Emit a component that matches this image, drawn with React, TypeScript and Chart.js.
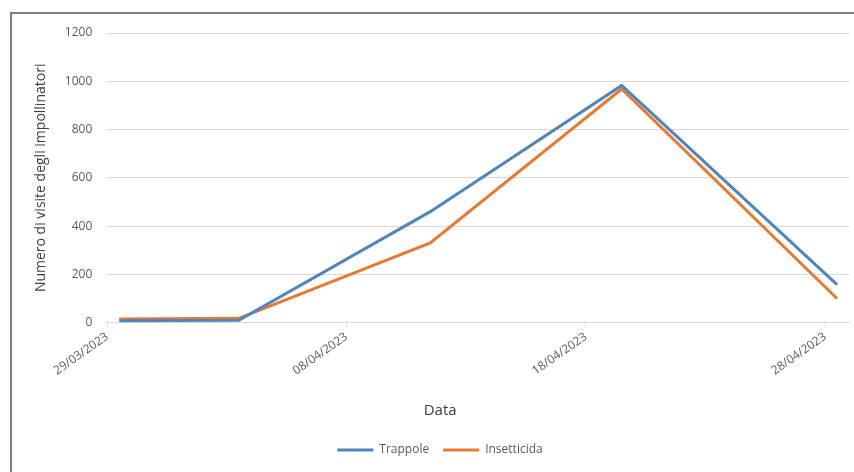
import React, { useEffect, useRef } from 'react';
import { Chart, registerables } from 'chart.js';

Chart.register(...registerables);

// ---- data ----
const dates = ['29/03/2023', '03/04/2023', '11/04/2023', '19/04/2023', '28/04/2023'];
const trappole = [8, 10, 460, 983, 158];
const insetticida = [15, 18, 330, 968, 100];
const seriesNames = ['Trappole', 'Insetticida'];
const axisStartDate = '29/03/2023';
const xTickDays = [0, 10, 20, 30];
const axisDays = 31;
const yMax = 1200;
const yStep = 200;
const xTitle = 'Data';
const yTitle = 'Numero di visite degli impollinatori';

const DAY = 86400000;
function parseDate(d: string): number {
  const [dd, mm, yy] = d.split('/').map(Number);
  return Date.UTC(yy, mm - 1, dd);
}
function dayOffset(d: string): number {
  return Math.round((parseDate(d) - parseDate(axisStartDate)) / DAY);
}
function formatDay(days: number): string {
  const t = new Date(parseDate(axisStartDate) + days * DAY);
  const p = (n: number) => String(n).padStart(2, '0');
  return `${p(t.getUTCDate())}/${p(t.getUTCMonth() + 1)}/${t.getUTCFullYear()}`;
}
// Excel date axis: points sit in the middle of each day's slot
const toPoints = (vals: number[]) => dates.map((d, i) => ({ x: dayOffset(d) + 0.5, y: vals[i] }));

const FONT = "'Open Sans', 'DejaVu Sans', sans-serif";
const BLUE = '#4F85BF';
const ORANGE = '#E67A30';

export default function App() {
  const ref = useRef<HTMLCanvasElement | null>(null);

  useEffect(() => {
    document.body.style.margin = '0';
    const canvas = ref.current;
    if (!canvas) return;

    const framePlugin = {
      id: 'frame',
      beforeDraw(chart: any) {
        const ctx = chart.ctx;
        ctx.save();
        ctx.fillStyle = '#ffffff';
        ctx.fillRect(0, 0, chart.width, chart.height);
        ctx.restore();
      },
      afterDraw(chart: any) {
        const ctx = chart.ctx;
        const a = chart.chartArea;
        ctx.save();
        ctx.strokeStyle = '#808080';
        ctx.lineWidth = 2;
        ctx.beginPath();
        ctx.moveTo(11, chart.height);
        ctx.lineTo(11, 13);
        ctx.lineTo(chart.width, 13);
        ctx.stroke();
        ctx.fillStyle = '#404040';
        ctx.font = `15px ${FONT}`;
        ctx.textAlign = 'center';
        ctx.textBaseline = 'middle';
        ctx.fillText(xTitle, (a.left + a.right) / 2 - 38, a.bottom + 88);
        ctx.restore();
      },
    };

    const chart = new Chart(canvas, {
      type: 'line',
      data: {
        datasets: [
          {
            label: seriesNames[0],
            data: toPoints(trappole),
            borderColor: BLUE,
            backgroundColor: BLUE,
            borderWidth: 3,
            pointRadius: 0,
            tension: 0,
          },
          {
            label: seriesNames[1],
            data: toPoints(insetticida),
            borderColor: ORANGE,
            backgroundColor: ORANGE,
            borderWidth: 3,
            pointRadius: 0,
            tension: 0,
          },
        ],
      },
      options: {
        animation: false,
        responsive: false,
        maintainAspectRatio: false,
        layout: { padding: { left: 31, right: 5, top: 33, bottom: 6 } },
        plugins: {
          tooltip: { enabled: false },
          legend: {
            position: 'bottom',
            labels: {
              usePointStyle: true,
              pointStyle: 'line',
              pointStyleWidth: 36,
              boxHeight: 12,
              padding: 14,
              color: '#595959',
              font: { family: FONT, size: 12 },
            },
          },
        },
        scales: {
          x: {
            type: 'linear',
            min: 0,
            max: axisDays,
            afterBuildTicks(scale: any) {
              scale.ticks = xTickDays.map((v) => ({ value: v }));
            },
            afterFit(scale: any) {
              scale.height += 50;
            },
            ticks: {
              minRotation: 35,
              maxRotation: 35,
              padding: 2,
              color: '#595959',
              font: { family: FONT, size: 12 },
              callback: (v: any) => formatDay(Number(v)),
            },
            grid: {
              drawOnChartArea: false,
              drawTicks: true,
              tickLength: 5,
              color: '#d9d9d9',
            },
            border: { display: true, color: '#d9d9d9' },
          },
          y: {
            min: 0,
            max: yMax,
            ticks: {
              stepSize: yStep,
              padding: 15,
              color: '#595959',
              font: { family: FONT, size: 12 },
              callback: (v: any) => String(v),
            },
            grid: { color: '#d9d9d9', drawTicks: false },
            border: { display: false },
            title: {
              display: true,
              text: yTitle,
              color: '#404040',
              font: { family: FONT, size: 14 },
              padding: { top: 2, bottom: 0 },
            },
          },
        },
      },
      plugins: [framePlugin],
    } as any);

    return () => chart.destroy();
  }, []);

  return (
    <div style={{ width: 854, height: 472 }}>
      <canvas ref={ref} width={854} height={472} style={{ display: 'block' }} />
    </div>
  );
}
